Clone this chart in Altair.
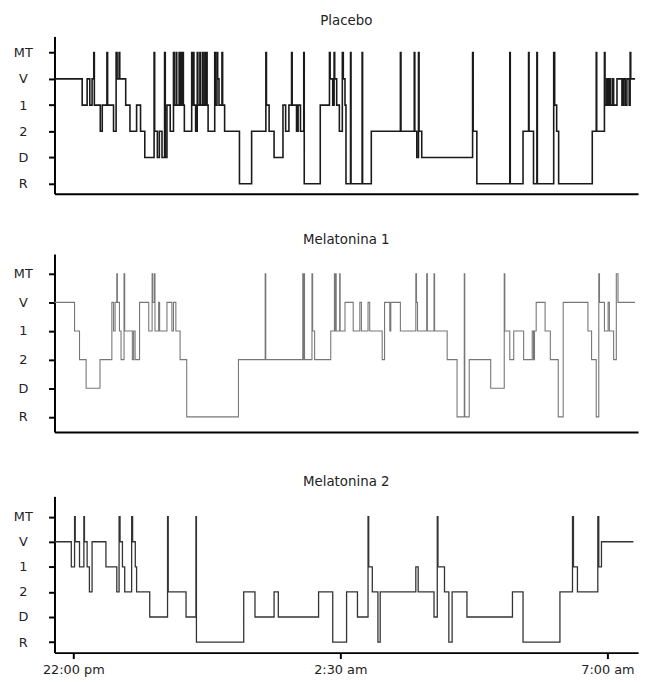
import altair as alt
import pandas as pd

# stage order (bottom to top)
stage_names = ["R", "D", "2", "1", "V", "MT"]

# times in minutes after 22:00, stage at each change (step-after)
placebo_t = [-19, 9, 14, 16.7, 19, 20.7, 21.3, 27.3, 29.3, 34, 34.7, 40.7, 43.3, 44.3, 46.3, 47, 53, 57.3, 64, 68,
             72.3, 81.7, 82.3, 85, 87, 89.7, 92.3, 93, 94.7, 98, 101.3, 102, 104, 104.6, 107, 107.6, 109, 109.6,
             110.7, 111.3, 112.3, 119.7, 120.3, 121.3, 122, 123.7, 125.3, 126, 128, 128.6, 130.7, 131.3, 133, 133.6,
             134.7, 135.3, 136.3, 143, 143.6, 145.3, 146, 147.3, 150.3, 151, 153, 168, 180.3, 194.7, 195.3, 198,
             203, 212, 214.7, 218, 220.7, 221.3, 225.7, 227.3, 229.7, 233, 233.5, 249.7, 259, 259.7, 262.3, 263.7,
             264.3, 266.3, 269, 272, 273, 274.7, 275.7, 280.3, 280.8, 292, 292.5, 301.3, 330.7, 331.3, 344.7,
             345.3, 347.3, 349, 349.6, 352.3, 403.7, 404.3, 408, 441.3, 441.8, 454.7, 460.3, 460.8, 465.3, 468.7,
             469.2, 485.7, 486.7, 488.7, 490.7, 524.7, 528.7, 529.2, 537, 537.6, 539.3, 540.7, 542, 543.3, 545.3,
             546.3, 549.7, 554.7, 556.3, 558, 559.7, 562, 563, 563.6, 568]
placebo_s = ["V", "1", "V", "1", "V", "MT", "1", "2", "1", "MT", "1", "2", "MT", "V", "MT", "V", "1", "2", "1", "2",
             "D", "MT", "2", "D", "2", "D", "MT", "D", "1", "2", "MT", "1", "MT", "1", "MT", "1", "MT", "1",
             "MT", "1", "2", "MT", "1", "MT", "1", "2", "MT", "1", "MT", "1", "MT", "1", "MT", "1",
             "MT", "1", "2", "MT", "1", "MT", "V", "1", "MT", "1", "2", "R", "2", "MT", "1", "2",
             "D", "1", "2", "1", "MT", "1", "2", "1", "2", "MT", "R", "1", "MT", "V", "1", "MT",
             "V", "1", "2", "MT", "V", "1", "R", "MT", "R", "MT", "R", "2", "MT", "2", "MT",
             "2", "D", "MT", "2", "D", "MT", "2", "R", "MT", "R", "2", "MT", "2", "R", "MT",
             "R", "MT", "1", "2", "R", "2", "MT", "2", "MT", "1", "V", "1", "V", "1", "V",
             "1", "V", "1", "V", "1", "V", "1", "MT", "V", "V"]

mel1_t = [-19, 1.3, 6.3, 13, 27, 39, 40.7, 42.3, 44, 44.6, 46.7, 48.3, 51.3, 52, 59.7, 61, 62.5, 67, 76.3, 79.7,
          80.3, 82, 82.6, 86.3, 87.3, 94.7, 99.7, 101.3, 103.7, 108, 114.7, 167, 194, 194.6, 232, 232.5, 233.3,
          233.8, 241.3, 242, 244, 260.3, 264, 264.5, 265.3, 265.8, 269.3, 269.8, 274.7, 283, 289.7, 291.3, 298,
          299.7, 312.3, 314.7, 320, 321, 330.7, 346.3, 347, 348, 357.3, 358, 364.7, 365.3, 378, 388, 395.3,
          395.8, 400.3, 422, 435.7, 436.3, 441.3, 445.3, 455.3, 464, 465.3, 466.3, 468, 477, 482.3, 490.3,
          495.3, 520.3, 524, 528.7, 531.3, 532, 537, 540.7, 542, 546.3, 549, 550.7, 568]
mel1_s = ["V", "1", "2", "D", "2", "V", "1", "V", "MT", "V", "1", "2", "MT", "1", "2", "1", "2", "V", "1", "MT",
          "V", "MT", "1", "V", "1", "V", "1", "V", "1", "2", "R", "2", "MT", "2", "MT", "2", "MT",
          "2", "MT", "1", "2", "1", "MT", "1", "MT", "1", "MT", "1", "V", "1", "V", "1", "V",
          "1", "2", "V", "1", "V", "1", "MT", "V", "1", "MT", "1", "MT", "1", "2", "R", "MT",
          "R", "2", "D", "MT", "1", "2", "1", "2", "1", "2", "1", "V", "1", "2", "R",
          "V", "1", "2", "R", "MT", "V", "1", "V", "1", "2", "MT", "V", "V"]

mel2_t = [-19, -2, 1.3, 2, 6.3, 10.7, 11.3, 14, 16.3, 19, 33, 44, 46.3, 47.3, 49.7, 52, 59, 60, 62.7, 64, 77.3,
          95.3, 96, 114, 124, 124.5, 172.3, 183.7, 203, 207.3, 248, 262.3, 276.3, 287.3, 298, 298.7, 302.3, 308,
          310.3, 346.3, 348.7, 364.7, 368, 368.7, 375.3, 379.7, 383, 398, 444, 454.7, 492, 504.7, 505.7, 509.7,
          530.3, 531.3, 534, 566.3]
mel2_s = ["V", "1", "MT", "V", "1", "MT", "V", "1", "2", "V", "1", "2", "MT", "V", "1", "2", "MT", "V", "1", "2", "D",
          "MT", "2", "D", "MT", "R", "2", "D", "2", "D", "2", "R", "2", "D", "MT", "1", "2", "R",
          "2", "1", "2", "D", "MT", "1", "2", "R", "2", "D", "2", "R", "2", "MT", "1", "2",
          "MT", "1", "V", "V"]

tick_values = [0, 270, 540]
tick_labels = ["22:00 pm", "2:30 am", "7:00 am"]

FONT = "DejaVu Sans"
label_expr_y = "['R','D','2','1','V','MT'][datum.value]"
label_expr_x = ("datum.value == 0 ? '%s' : datum.value == 270 ? '%s' : '%s'" % tuple(tick_labels))


def panel(times, stages, title, height, ydom, color, sw, bottom, xext, toff):
    df = pd.DataFrame({"t": times, "s": [stage_names.index(s) for s in stages], "i": range(len(times))})
    if bottom:
        xaxis = alt.Axis(values=tick_values, labelExpr=label_expr_x, title=None, grid=False,
                         domainColor="black", domainWidth=2, tickColor="black", tickWidth=2, tickSize=6,
                         labelFontSize=13, labelFont=FONT, labelColor="#222222", labelPadding=5)
    else:
        xaxis = alt.Axis(title=None, grid=False, labels=False, ticks=False, domainColor="black",
                         domainWidth=2, minExtent=xext, maxExtent=xext)
    return alt.Chart(df, title=alt.TitleParams(title, fontSize=13.5, font=FONT, fontWeight="normal",
                                               color="#222222", anchor="middle", offset=toff)).mark_line(
        interpolate="step-after", color=color, strokeWidth=sw
    ).encode(
        x=alt.X("t:Q", scale=alt.Scale(domain=[-19, 571], nice=False, zero=False), axis=xaxis),
        y=alt.Y("s:Q", scale=alt.Scale(domain=ydom, nice=False, zero=False),
                axis=alt.Axis(values=[0, 1, 2, 3, 4, 5], labelExpr=label_expr_y, title=None, grid=False,
                              domainColor="black", domainWidth=2, tickColor="black", tickWidth=2,
                              tickSize=6, labelAlign="center", labelPadding=26, labelFontSize=13,
                              labelFont=FONT, labelColor="#222222", minExtent=40, maxExtent=40)),
        order="i:Q",
    ).properties(width=590, height=height)


p1 = panel(placebo_t, placebo_s, "Placebo", 159, [-0.38, 5.62], "#1a1a1a", 1.6, False, 3, 9)
p2 = panel(mel1_t, mel1_s, "Melatonina 1", 180, [-0.53, 5.69], "#777777", 1.1, False, 7, 8)
p3 = panel(mel2_t, mel2_s, "Melatonina 2", 158, [-0.42, 5.81], "#333333", 1.3, True, 1, 8)

chart = alt.vconcat(p1, p2, p3, spacing=36).configure_view(stroke=None).properties(
    padding={"top": 2, "left": 5, "right": 5, "bottom": 5})

chart.save("out.html", embed_options={"renderer": "svg", "actions": False})
